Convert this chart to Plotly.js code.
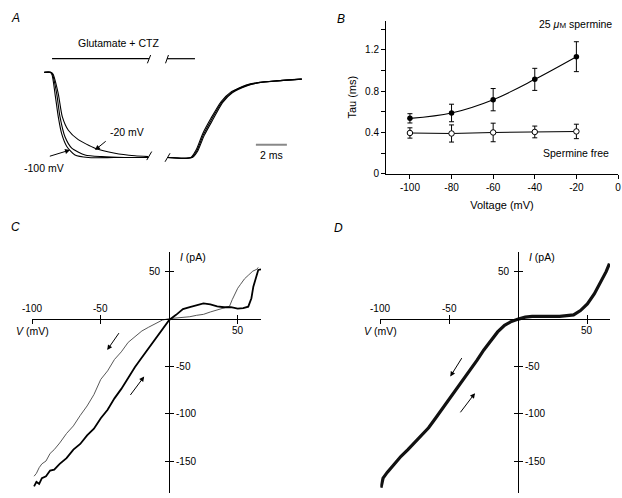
<!DOCTYPE html>
<html><head><meta charset="utf-8">
<script src="https://cdn.plot.ly/plotly-3.0.1.min.js"></script>
<style>html,body{margin:0;padding:0;background:#fff}#chart{width:622px;height:498px}</style>
</head><body><div id="chart"></div>
<script>
// ---------- Panel A: normalized current traces (time in ms) ----------
const timeA100 = [0, 0.37, 0.5, 0.69, 0.9, 1.12, 1.45, 1.98, 2.84, 4.5, 6.71, null, 7.94, 9.45, 9.8, 10.22, 10.75, 11.4, 12.05, 13.02, 13.9, 14.98, 16.61];
const currA100 = [0, 0, -0.03, -0.25, -0.52, -0.72, -0.87, -0.97, -1.0, -1.0, -1.0, null, -1.0, -1.0, -0.91, -0.72, -0.54, -0.345, -0.23, -0.15, -0.117, -0.1, -0.08];
const timeA60 = [0, 0.4, 0.52, 0.8, 1.01, 1.34, 1.77, 2.63, 3.7, 5.2, 6.71, null, 7.94, 9.5, 9.84, 10.27, 10.8, 11.45, 12.09, 13.06, 13.92, 14.99, 16.61];
const currA60 = [0, 0, -0.02, -0.25, -0.52, -0.76, -0.89, -0.97, -0.99, -1.0, -1.0, null, -1.0, -1.0, -0.92, -0.73, -0.55, -0.35, -0.235, -0.153, -0.118, -0.1, -0.08];
const timeA20 = [0, 0.42, 0.56, 0.9, 1.16, 1.55, 2.19, 3.27, 4.56, 5.85, 6.71, null, 7.94, 9.55, 9.88, 10.32, 10.86, 11.5, 12.13, 13.1, 13.95, 15.0, 16.61];
const currA20 = [0, 0, -0.02, -0.25, -0.52, -0.68, -0.79, -0.89, -0.95, -0.98, -0.99, null, -1.0, -1.0, -0.93, -0.74, -0.56, -0.355, -0.24, -0.156, -0.12, -0.1, -0.08];

// ---------- Panel B: Tau vs voltage ----------
const voltB = [-100, -80, -60, -40, -20];
const tauSpermine = [0.537, 0.589, 0.718, 0.915, 1.135];
const errSpermine = [0.045, 0.085, 0.108, 0.107, 0.145];
const tauFree = [0.395, 0.39, 0.40, 0.405, 0.41];
const errFree = [0.05, 0.083, 0.09, 0.057, 0.07];
const tickValsBx = [-100, -80, -60, -40, -20, 0];
const tickTextBx = ['-100', '-80', '-60', '-40', '-20', '0'];
const tickValsBy = [0, 0.4, 0.8, 1.2];
const tickTextBy = ['0', '0.4', '0.8', '1.2'];
const minorValsBy = [0.2, 0.6, 1.0, 1.4];

// ---------- Panel C: I-V ramps (two directions) ----------
const vC_down = [-98.7, -97, -95, -93, -90, -87, -84, -80, -75, -70, -65, -60, -55, -50, -45, -40, -35, -30, -25, -20, -15, -10, -5, 0, 5, 10, 15, 20, 25, 30, 35, 40, 44, 46, 48, 50, 52, 55, 58, 61, 64, 65];
const iC_down = [-166, -163, -157, -153, -150, -142, -138, -131, -121, -113, -102, -92, -80, -64, -55, -43, -35, -25, -19, -13, -9, -5, -1.5, 0, 0.5, 1.5, 2, 3.5, 4.5, 7, 9, 11, 13, 20, 27, 32, 36, 42, 46, 50, 52, 54];
const vC_up = [-98.7, -97, -95, -93, -90, -87, -84, -80, -75, -70, -65, -60, -55, -50, -45, -40, -35, -30, -25, -20, -15, -10, -5, 0, 5, 10, 15, 20, 25, 30, 35, 40, 45, 50, 54, 57.7, 60, 61.4, 63, 65, 67];
const iC_up = [-176.8, -172, -174, -168, -166, -160, -159, -153, -147, -138, -132, -123, -116, -105, -96, -84, -74, -62, -51, -41, -31, -21, -11, -1.4, 4, 10, 12, 14, 16, 15, 13, 12, 12, 10.5, 11, 12.6, 21.5, 33.7, 42, 51.3, 52];

// ---------- Panel D: I-V ramps (overlapping) ----------
const vD = [-99.5, -98, -95, -90, -85, -80, -75, -70, -65, -60, -55, -50, -45, -40, -35, -30, -25, -20, -15, -10, -5, 0, 5, 10, 15, 20, 25, 30, 35, 40, 45, 50, 55, 60, 63.6, 66];
const iD = [-178, -168, -162, -153, -145, -138, -130, -123, -115, -105, -95, -85, -75, -65, -54, -44, -33, -23, -14, -7, -3, -0.5, 1.5, 2.3, 2.6, 2.8, 2.5, 2.3, 2.8, 4, 8.5, 15.5, 26, 39, 49.5, 58];

const tickValsIVx = [-100, -50, 50];
const tickValsIVy = [50, -50, -100, -150];

// ---------- layout helpers ----------
const FONT = 'Liberation Sans, Arial, Helvetica, sans-serif';
const W = 622, H = 498;
const domAx = [0, 311 / W], rngAx = [-2.858, 17.206];
const domAy = [1 - 210 / H, 1], rngAy = [-1.616, 0.849];
const domBx = [386 / W, 618 / W], rngBx = [-111.5, 0];
const domBy = [1 - 173.7 / H, 1 - 20.7 / H], rngBy = [0, 1.484];
const rngIVy = [-184, 70.5];
const domIVy = [1 - 493.3 / H, 1 - 251.7 / H];
const domCx = [32.3 / W, 261 / W], rngCx = [-100, 67];
const domDx = [380.3 / W, 610 / W], rngDx = [-100, 66.4];
function zeroPos(dom, rng) { return dom[0] + (0 - rng[0]) / (rng[1] - rng[0]) * (dom[1] - dom[0]); }

const traces = [
  {x: timeA100, y: currA100, xaxis: 'x', yaxis: 'y', mode: 'lines', line: {color: '#000', width: 1.1, shape: 'spline', smoothing: 0.6}, connectgaps: false, showlegend: false, hoverinfo: 'skip'},
  {x: timeA60, y: currA60, xaxis: 'x', yaxis: 'y', mode: 'lines', line: {color: '#000', width: 1.1, shape: 'spline', smoothing: 0.6}, connectgaps: false, showlegend: false, hoverinfo: 'skip'},
  {x: timeA20, y: currA20, xaxis: 'x', yaxis: 'y', mode: 'lines', line: {color: '#000', width: 1.1, shape: 'spline', smoothing: 0.6}, connectgaps: false, showlegend: false, hoverinfo: 'skip'},
  {x: voltB, y: tauSpermine, xaxis: 'x2', yaxis: 'y2', mode: 'lines+markers', line: {color: '#000', width: 1.1, shape: 'spline'},
   marker: {size: 5.5, color: '#000'}, error_y: {type: 'data', array: errSpermine, visible: true, color: '#000', thickness: 1, width: 2.5}, showlegend: false},
  {x: voltB, y: tauFree, xaxis: 'x2', yaxis: 'y2', mode: 'lines+markers', line: {color: '#000', width: 1.1},
   marker: {size: 5.5, color: '#fff', line: {color: '#000', width: 1}}, error_y: {type: 'data', array: errFree, visible: true, color: '#000', thickness: 1, width: 2.5}, showlegend: false},
  {x: vC_down, y: iC_down, xaxis: 'x3', yaxis: 'y3', mode: 'lines', line: {color: '#444', width: 0.9}, showlegend: false},
  {x: vC_up, y: iC_up, xaxis: 'x3', yaxis: 'y3', mode: 'lines', line: {color: '#000', width: 1.8}, showlegend: false},
  {x: vD, y: iD, xaxis: 'x4', yaxis: 'y4', mode: 'lines', line: {color: '#111', width: 3.2}, showlegend: false},
  {x: [null], y: [null], xaxis: 'x5', yaxis: 'y5', mode: 'lines', showlegend: false, hoverinfo: 'skip'},
  {x: [null], y: [null], xaxis: 'x6', yaxis: 'y6', mode: 'lines', showlegend: false, hoverinfo: 'skip'}
];

function ivAxis(extra) {
  return Object.assign({showline: true, linecolor: '#000', linewidth: 1, ticks: 'outside', ticklen: 4, tickcolor: '#000', tickwidth: 1,
    showticklabels: false, showgrid: false, zeroline: false, fixedrange: true}, extra);
}
function ivOverlay(extra) {
  return Object.assign({showline: false, ticks: 'inside', ticklen: 4, tickcolor: '#000', tickwidth: 1,
    showticklabels: false, showgrid: false, zeroline: false, fixedrange: true}, extra);
}
const posCx = zeroPos(domIVy, rngIVy), posCy = zeroPos(domCx, rngCx), posDy = zeroPos(domDx, rngDx);

const tf = {family: FONT, size: 10, color: '#000'};
const ann = [];
function txt(text, x, y, xref, yref, o) { ann.push(Object.assign({text: text, x: x, y: y, xref: xref, yref: yref, showarrow: false, font: tf}, o || {})); }
function arrow(x, y, ax, ay, xr, yr) { ann.push({text: '', x: x, y: y, ax: ax, ay: ay, xref: xr, yref: yr, axref: xr, ayref: yr, showarrow: true, arrowhead: 2, arrowsize: 1, arrowwidth: 1, arrowcolor: '#000'}); }

// panel letters
const pl = {family: FONT, size: 12, color: '#000'};
txt('<i>A</i>', 9 / W, 1 - 8.8 / H, 'paper', 'paper', {font: pl});
txt('<i>B</i>', 341 / W, 1 - 10 / H, 'paper', 'paper', {font: pl});
txt('<i>C</i>', 9 / W, 1 - 226.5 / H, 'paper', 'paper', {font: pl});
txt('<i>D</i>', 338 / W, 1 - 228.5 / H, 'paper', 'paper', {font: pl});

// panel A texts
const fa = {family: FONT, size: 10.5, color: '#000'};
txt('Glutamate + CTZ', 4.76, 0.344, 'x', 'y', {font: fa});
txt('-20 mV', 5.32, -0.704, 'x', 'y', {font: fa});
txt('-100 mV', -0.02, -1.127, 'x', 'y', {font: fa});
txt('2 ms', 14.63, -0.97, 'x', 'y', {font: fa});
arrow(3.27, -0.912, 4.06, -0.795, 'x', 'y');
arrow(1.66, -0.912, 0.26, -0.99, 'x', 'y');

// panel B texts
txt('25 <i>μ</i><span style="font-size:8px">M</span> spermine', -20.3, 1.452, 'x2', 'y2', {font: fa});
txt('Spermine free', -20, 0.204, 'x2', 'y2', {font: fa});

// panels C / D tick labels and titles
[['x3', 'y3'], ['x4', 'y4']].forEach(function (r) {
  txt('-100', -100, 0, r[0], r[1], {yanchor: 'bottom', yshift: 3});
  txt('-50', -50, 0, r[0], r[1], {yanchor: 'bottom', yshift: 3});
  txt('50', 50, 0, r[0], r[1], {yanchor: 'top', yshift: -4});
  txt('<i>V</i> (mV)', -100, 0, r[0], r[1], {yanchor: 'top', yshift: -4, font: fa});
  txt('50', 0, 50, r[0], r[1], {xanchor: 'right', xshift: -6});
  txt('-50', 0, -50, r[0], r[1], {xanchor: 'left', xshift: 5});
  txt('-100', 0, -100, r[0], r[1], {xanchor: 'left', xshift: 5});
  txt('-150', 0, -150, r[0], r[1], {xanchor: 'left', xshift: 5});
  txt('<i>I</i> (pA)', 0, 65.3, r[0], r[1], {xanchor: 'left', xshift: 9, font: fa});
});
arrow(-45.3, -33, -36, -13.7, 'x3', 'y3');
arrow(-18.3, -61, -29.2, -82, 'x3', 'y3');
arrow(-49.3, -61, -40.3, -40, 'x4', 'y4');
arrow(-31.4, -78.5, -42.8, -100.3, 'x4', 'y4');

const shp = [];
function seg(x0, y0, x1, y1, color, width) { shp.push({type: 'line', xref: 'x', yref: 'y', x0: x0, y0: y0, x1: x1, y1: y1, line: {color: color, width: width}}); }
seg(0.5, 0.16, 6.75, 0.16, '#000', 1.2);
seg(7.92, 0.16, 9.72, 0.16, '#000', 1.2);
seg(6.65, 0.106, 6.86, 0.203, '#000', 1);
seg(7.82, 0.106, 8.01, 0.203, '#000', 1);
seg(6.61, -1.03, 6.93, -0.93, '#000', 1);
seg(7.79, -1.05, 8.11, -0.95, '#000', 1);
seg(13.65, -0.85, 15.65, -0.85, '#888', 2);

const layout = {
  width: W, height: H, margin: {l: 0, r: 0, t: 0, b: 0}, paper_bgcolor: '#fff', plot_bgcolor: 'rgba(0,0,0,0)',
  font: {family: FONT, size: 10, color: '#000'}, showlegend: false,
  xaxis: {domain: domAx, range: rngAx, visible: false, fixedrange: true},
  yaxis: {domain: domAy, range: rngAy, visible: false, fixedrange: true},
  xaxis2: {domain: domBx, range: rngBx, anchor: 'y2', showline: true, linecolor: '#000', linewidth: 1, ticks: 'outside', ticklen: 4, tickcolor: '#000',
    tickmode: 'array', tickvals: tickValsBx, ticktext: tickTextBx, tickfont: tf, showgrid: false, zeroline: false, fixedrange: true,
    title: {text: 'Voltage (mV)', font: {family: FONT, size: 11, color: '#000'}, standoff: 9}},
  yaxis2: {domain: domBy, range: rngBy, anchor: 'x2', showline: true, linecolor: '#000', linewidth: 1, ticks: 'outside', ticklen: 4, tickcolor: '#000',
    tickmode: 'array', tickvals: tickValsBy, ticktext: tickTextBy, tickfont: tf, showgrid: false, zeroline: false, fixedrange: true,
    minor: {tickmode: 'array', tickvals: minorValsBy, ticks: 'outside', ticklen: 4, tickcolor: '#000', showgrid: false},
    title: {text: 'Tau (ms)', font: {family: FONT, size: 11, color: '#000'}, standoff: 6}},
  xaxis3: ivAxis({domain: domCx, range: rngCx, anchor: 'free', position: posCx, tickmode: 'array', tickvals: tickValsIVx}),
  yaxis3: ivAxis({domain: domIVy, range: rngIVy, anchor: 'free', position: posCy, tickmode: 'array', tickvals: tickValsIVy}),
  xaxis4: ivAxis({domain: domDx, range: rngDx, anchor: 'free', position: posCx, tickmode: 'array', tickvals: tickValsIVx}),
  yaxis4: ivAxis({domain: domIVy, range: rngIVy, anchor: 'free', position: posDy, tickmode: 'array', tickvals: tickValsIVy}),
  xaxis5: ivOverlay({overlaying: 'x3', range: rngCx, anchor: 'free', position: posCx, tickmode: 'array', tickvals: tickValsIVx}),
  yaxis5: ivOverlay({overlaying: 'y3', range: rngIVy, anchor: 'free', position: posCy, tickmode: 'array', tickvals: tickValsIVy}),
  xaxis6: ivOverlay({overlaying: 'x4', range: rngDx, anchor: 'free', position: posCx, tickmode: 'array', tickvals: tickValsIVx}),
  yaxis6: ivOverlay({overlaying: 'y4', range: rngIVy, anchor: 'free', position: posDy, tickmode: 'array', tickvals: tickValsIVy}),
  annotations: ann, shapes: shp
};

Plotly.newPlot('chart', traces, layout, {displayModeBar: false, staticPlot: true});
</script></body></html>
